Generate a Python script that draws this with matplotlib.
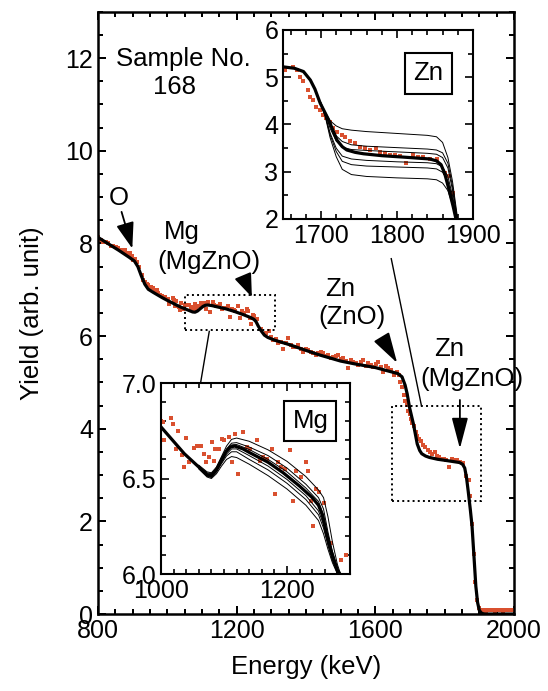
import matplotlib
matplotlib.use("Agg")
import matplotlib.pyplot as plt
from matplotlib.patches import Rectangle
from matplotlib.ticker import MultipleLocator, FormatStrFormatter

plt.rcParams['font.family'] = ['Liberation Sans', 'DejaVu Sans']

# measured spectrum (energy in keV, yield in arb. unit)
data_E = [801, 808, 815, 822, 830, 837, 844, 851, 859, 866, 873, 878, 883, 888, 892, 897,
          902, 907, 912, 918, 926, 931, 936, 941, 945, 952, 960, 964, 969, 974, 979, 986,
          993, 1000,
          1002.6, 1005.2, 1015.7, 1018.3, 1023.6, 1026.2, 1034.0, 1036.6, 1039.3, 1044.5,
          1052.4, 1057.6, 1062.8, 1068.1, 1070.7, 1075.9, 1081.2, 1083.8, 1086.4, 1091.6,
          1096.9, 1099.5, 1107.3, 1112.6, 1117.8, 1123.0, 1130.9, 1136.1, 1141.4, 1151.8,
          1157.1, 1162.3, 1167.5, 1175.4, 1180.6, 1185.9, 1191.1, 1196.3, 1204.2, 1209.4,
          1214.7, 1222.5, 1230.4, 1233.0, 1238.2, 1240.8, 1246.1, 1251.3, 1259.2, 1269.6,
          1285.3, 1293.2,
          1300, 1306, 1313, 1320, 1328, 1335, 1342, 1349, 1356, 1363, 1371, 1378, 1385, 1392,
          1400, 1407, 1414, 1421, 1429, 1436, 1443, 1450, 1457, 1464, 1472, 1479, 1486, 1493,
          1500, 1508, 1515, 1522, 1529, 1536, 1544, 1551, 1558, 1565, 1572, 1580, 1587, 1594,
          1601, 1609, 1616, 1623, 1630, 1638, 1645,
          1652.6, 1663.6, 1668, 1672, 1676.7, 1683, 1685.5, 1690, 1694, 1698.7, 1703, 1707,
          1711.8, 1716, 1720.7, 1727, 1731.6, 1738, 1744.7, 1751, 1758, 1764.5, 1773, 1777.6,
          1784, 1791, 1797, 1804, 1812, 1821, 1828, 1834.6, 1843, 1852, 1863, 1869,
          1874, 1879, 1884, 1889, 1894, 1899,
          1904, 1909, 1914, 1919, 1924, 1929, 1934, 1939, 1944, 1949, 1954, 1959, 1964, 1969,
          1974, 1979, 1984, 1989, 1994, 1999]
data_Y = [8.14, 8.08, 8.04, 8.03, 8.00, 7.95, 7.94, 7.92, 7.89, 7.86, 7.82, 7.85, 7.79, 7.76, 7.79, 7.72,
          7.64, 7.66, 7.60, 7.48, 7.32, 7.22, 7.17, 7.12, 7.10, 7.06, 7.03, 6.98, 6.99, 6.93, 6.88, 6.87,
          6.84, 6.80,
          6.797, 6.700, 6.815, 6.788, 6.656, 6.748, 6.621, 6.559, 6.714, 6.586,
          6.661, 6.668, 6.668, 6.630, 6.586, 6.612, 6.691, 6.594, 6.656, 6.656,
          6.709, 6.700, 6.718, 6.586, 6.735, 6.524, 6.744, 6.665, 6.656, 6.700,
          6.594, 6.612, 6.603, 6.656, 6.418, 6.586, 6.559, 6.550, 6.647, 6.383,
          6.541, 6.506, 6.586, 6.541, 6.383, 6.250, 6.444, 6.427, 6.374, 6.162,
          6.074, 6.101,
          5.98, 5.91, 5.93, 5.84, 5.88, 5.73, 5.84, 5.95, 5.80, 5.77, 5.76, 5.81, 5.72, 5.66,
          5.72, 5.70, 5.65, 5.63, 5.60, 5.63, 5.66, 5.63, 5.56, 5.59, 5.53, 5.55, 5.58, 5.59,
          5.50, 5.52, 5.47, 5.30, 5.48, 5.45, 5.42, 5.38, 5.44, 5.48, 5.36, 5.41, 5.38, 5.34,
          5.40, 5.45, 5.33, 5.23, 5.35, 5.30, 5.26,
          5.15, 5.22, 5.15, 5.01, 4.91, 4.73, 4.59, 4.52, 4.38, 4.31, 4.20, 4.13,
          4.06, 3.92, 3.85, 3.78, 3.74, 3.64, 3.60, 3.53, 3.50, 3.46, 3.50, 3.42,
          3.39, 3.35, 3.35, 3.33, 3.18, 3.35, 3.32, 3.32, 3.28, 3.26, 2.97, 2.90,
          2.55, 1.95, 1.30, 0.70, 0.30, 0.12,
          0.09, 0.08, 0.09, 0.07, 0.09, 0.08, 0.08, 0.09, 0.07, 0.08, 0.09, 0.08, 0.08, 0.07,
          0.09, 0.08, 0.08, 0.09, 0.08, 0.08]

# best-fit simulation
fit_E = [800, 830, 860, 890, 905, 915, 925, 935, 945, 960, 985, 1000, 1037, 1060, 1073, 1080,
         1087, 1095, 1103, 1110, 1117, 1130, 1141, 1170, 1194, 1220, 1240, 1250, 1256, 1262,
         1270, 1280, 1290, 1310, 1354, 1400, 1440, 1500, 1540, 1600, 1650, 1665, 1677, 1686,
         1692, 1699, 1710, 1721, 1728, 1734, 1745, 1756, 1780, 1808, 1843, 1852, 1858, 1863,
         1868, 1874, 1879, 1885, 1890, 1895, 1900, 1906, 1915, 2000]
fit_Y = [8.13, 7.99, 7.85, 7.70, 7.62, 7.50, 7.30, 7.12, 7.01, 6.94, 6.83, 6.77, 6.63, 6.56, 6.52, 6.515,
         6.54, 6.59, 6.64, 6.665, 6.67, 6.655, 6.635, 6.585, 6.53, 6.46, 6.40, 6.36, 6.31, 6.22,
         6.12, 6.02, 5.97, 5.91, 5.81, 5.69, 5.59, 5.46, 5.40, 5.32, 5.22, 5.19, 5.12, 4.94,
         4.75, 4.45, 4.10, 3.67, 3.53, 3.46, 3.41, 3.38, 3.34, 3.31, 3.27, 3.23, 3.15, 2.95,
         2.65, 2.26, 1.90, 1.20, 0.60, 0.25, 0.08, 0.02, 0.0, 0.0]

# simulations with other Mg / Zn contents (insets)
mg_E = [1060, 1073, 1080, 1088, 1096, 1104, 1112, 1120, 1140, 1170, 1200, 1230, 1250, 1258,
        1265, 1272, 1280, 1290]
mg_sims = [
    [6.57, 6.535, 6.53, 6.56, 6.615, 6.67, 6.705, 6.712, 6.695, 6.65, 6.59, 6.51, 6.44, 6.40, 6.30, 6.17, 6.05, 5.95],
    [6.565, 6.53, 6.525, 6.555, 6.605, 6.655, 6.685, 6.688, 6.665, 6.62, 6.555, 6.47, 6.40, 6.34, 6.22, 6.12, 6.03, 5.95],
    [6.56, 6.525, 6.52, 6.55, 6.60, 6.648, 6.676, 6.678, 6.652, 6.60, 6.535, 6.45, 6.38, 6.31, 6.20, 6.11, 6.025, 5.95],
    [6.555, 6.515, 6.51, 6.54, 6.585, 6.628, 6.655, 6.655, 6.62, 6.565, 6.495, 6.41, 6.33, 6.26, 6.16, 6.08, 6.01, 5.95],
    [6.555, 6.512, 6.505, 6.535, 6.578, 6.618, 6.64, 6.64, 6.60, 6.545, 6.475, 6.39, 6.31, 6.24, 6.15, 6.07, 6.005, 5.95],
    [6.55, 6.508, 6.50, 6.525, 6.565, 6.60, 6.615, 6.61, 6.575, 6.515, 6.445, 6.36, 6.28, 6.21, 6.13, 6.06, 6.0, 5.95],
]
zn_E = [1700, 1706, 1712, 1720, 1728, 1740, 1760, 1800, 1840, 1852, 1860, 1867, 1873, 1879, 1885]
zn_sims = [
    [4.45, 4.25, 4.08, 3.97, 3.91, 3.88, 3.85, 3.81, 3.77, 3.74, 3.62, 3.30, 2.80, 2.10, 1.40],
    [4.45, 4.22, 3.98, 3.76, 3.64, 3.57, 3.54, 3.51, 3.48, 3.46, 3.40, 3.18, 2.70, 2.05, 1.40],
    [4.45, 4.20, 3.92, 3.65, 3.52, 3.47, 3.45, 3.42, 3.39, 3.37, 3.30, 3.08, 2.62, 2.02, 1.40],
    [4.45, 4.17, 3.82, 3.50, 3.33, 3.27, 3.24, 3.21, 3.19, 3.17, 3.10, 2.90, 2.50, 1.98, 1.40],
    [4.45, 4.16, 3.78, 3.43, 3.22, 3.15, 3.12, 3.10, 3.08, 3.06, 2.99, 2.80, 2.43, 1.96, 1.40],
    [4.45, 4.14, 3.72, 3.32, 3.05, 2.94, 2.90, 2.87, 2.85, 2.83, 2.76, 2.60, 2.30, 1.92, 1.40],
]

RED = '#D9502F'
FS_TICK = 18
FS = 18.5


def style_axes(ax, lw):
    ax.tick_params(which='both', direction='in', top=True, right=True, labelsize=FS_TICK, width=lw * 0.8)
    ax.tick_params(which='major', length=6)
    ax.tick_params(which='minor', length=3.5)
    for s in ax.spines.values():
        s.set_linewidth(lw)


def draw_spectrum(ax, ms):
    ax.plot(data_E, data_Y, 's', color=RED, ms=ms, mew=0, zorder=2)


fig = plt.figure(figsize=(5.48, 6.91), dpi=100)

# main panel
ax = fig.add_axes([0.1788, 0.1114, 0.7591, 0.8716])
draw_spectrum(ax, 2.9)
ax.plot(fit_E, fit_Y, color='k', lw=2.3, zorder=3)
ax.set_xlim(800, 2000)
ax.set_ylim(0, 13)
ax.xaxis.set_major_locator(MultipleLocator(400))
ax.xaxis.set_minor_locator(MultipleLocator(50))
ax.yaxis.set_major_locator(MultipleLocator(2))
ax.yaxis.set_minor_locator(MultipleLocator(0.5))
style_axes(ax, 1.8)
ax.set_xlabel('Energy (keV)', fontsize=FS, labelpad=9)
ax.set_ylabel('Yield (arb. unit)', fontsize=FS, labelpad=15)

ax.text(1046, 11.99, 'Sample No.', fontsize=FS, ha='center', va='center')
ax.text(1021, 11.37, '168', fontsize=FS, ha='center', va='center')
ax.text(860, 8.98, 'O', fontsize=FS, ha='center', va='center')
ax.text(1041, 8.25, 'Mg', fontsize=FS, ha='center', va='center')
ax.text(1121, 7.60, '(MgZnO)', fontsize=FS, ha='center', va='center')
ax.text(1498, 7.02, 'Zn', fontsize=FS, ha='center', va='center')
ax.text(1533, 6.41, '(ZnO)', fontsize=FS, ha='center', va='center')
ax.text(1814, 5.71, 'Zn', fontsize=FS, ha='center', va='center')
ax.text(1879, 5.07, '(MgZnO)', fontsize=FS, ha='center', va='center')

head = dict(color='k', lw=1.3, shrinkA=0, shrinkB=0, mutation_scale=10)
ax.annotate('', xy=(899, 7.89), xytext=(868, 8.68),
            arrowprops=dict(arrowstyle='-|>,head_length=1.6,head_width=0.55', **head))
ax.annotate('', xy=(1244, 6.84), xytext=(1221, 7.25),
            arrowprops=dict(arrowstyle='-|>,head_length=1.45,head_width=0.55', **head))
ax.annotate('', xy=(1663, 5.42), xytext=(1622, 5.93),
            arrowprops=dict(arrowstyle='-|>,head_length=1.9,head_width=0.55', **head))
ax.annotate('', xy=(1844, 3.57), xytext=(1844, 4.62),
            arrowprops=dict(arrowstyle='-|>,head_length=1.9,head_width=0.5', **head))

# zoom boxes and links
ax.add_patch(Rectangle((1050, 6.13), 260, 0.76, fill=False, ls=':', lw=1.4, zorder=4))
ax.add_patch(Rectangle((1648, 2.44), 256, 2.06, fill=False, ls=':', lw=1.4, zorder=4))
ax.plot([1121, 1096], [6.10, 4.99], color='k', lw=1.0, zorder=4)
ax.plot([1646, 1733], [7.67, 4.50], color='k', lw=1.0, zorder=4)

# Zn inset
axz = fig.add_axes([0.5164, 0.6831, 0.3467, 0.2735])
draw_spectrum(axz, 2.9)
for ys in zn_sims:
    axz.plot(zn_E, ys, color='k', lw=0.7, zorder=3)
axz.plot(fit_E, fit_Y, color='k', lw=2.3, zorder=4)
axz.set_xlim(1650, 1900)
axz.set_ylim(2, 6)
axz.xaxis.set_major_locator(MultipleLocator(100))
axz.xaxis.set_minor_locator(MultipleLocator(20))
axz.yaxis.set_major_locator(MultipleLocator(1))
axz.yaxis.set_minor_locator(MultipleLocator(0.5))
style_axes(axz, 1.5)
axz.text(0.765, 0.77, 'Zn', transform=axz.transAxes, fontsize=FS, ha='center', va='center',
         bbox=dict(boxstyle='square,pad=0.32', fc='white', ec='k', lw=1.5))

# Mg inset
axm = fig.add_axes([0.2938, 0.1693, 0.3449, 0.2764])
draw_spectrum(axm, 2.9)
for ys in mg_sims:
    axm.plot(mg_E, ys, color='k', lw=0.7, zorder=3)
axm.plot(fit_E, fit_Y, color='k', lw=2.3, zorder=4)
axm.set_xlim(1000, 1300)
axm.set_ylim(6.0, 7.0)
axm.xaxis.set_major_locator(MultipleLocator(200))
axm.xaxis.set_minor_locator(MultipleLocator(20))
axm.yaxis.set_major_locator(MultipleLocator(0.5))
axm.yaxis.set_minor_locator(MultipleLocator(0.1))
axm.yaxis.set_major_formatter(FormatStrFormatter('%.1f'))
style_axes(axm, 1.5)
axm.text(0.79, 0.80, 'Mg', transform=axm.transAxes, fontsize=FS, ha='center', va='center',
         bbox=dict(boxstyle='square,pad=0.32', fc='white', ec='k', lw=1.5))

fig.savefig('out.png', dpi=100)
